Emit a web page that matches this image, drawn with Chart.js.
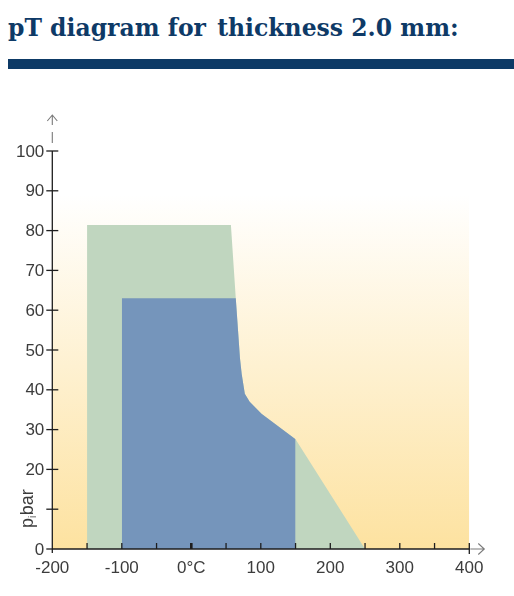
<!DOCTYPE html>
<html><head><meta charset="utf-8">
<script src="https://cdn.jsdelivr.net/npm/chart.js@4"></script>
<style>
html,body{margin:0;padding:0;background:#fff;width:514px;height:596px;overflow:hidden;}
#title{position:absolute;left:8px;top:17px;font-family:"DejaVu Serif",serif;font-weight:bold;font-size:23.5px;line-height:23.5px;color:#0e3a67;white-space:nowrap;}
#bar{position:absolute;left:8px;top:59px;width:506px;height:10px;background:#0d3a66;}
#c{position:absolute;left:0;top:0;}
</style></head><body>
<div id="title">pT diagram for<span style="margin-left:3px"> </span>thickness 2.0 mm:</div>
<div id="bar"></div>
<canvas id="c" width="514" height="596"></canvas>
<script>
// Data (temperature °C, pressure bar)
const greenT = [-150, -150, 57, 64, 70, 72.5, 77, 84, 101, 150, 250];
const greenP = [0, 81.4, 81.4, 63, 48, 44, 39, 37, 34, 27.6, 0];
const blueT = [-100, -100, 64, 70, 72.5, 77, 84, 101, 150, 150];
const blueP = [0, 63, 63, 48, 44, 39, 37, 34, 27.6, 0];
const bgT = [-200, -200, 400.5, 400.5];
const bgP = [0, 89, 89, 0];
const xTicks = [-200, -150, -100, -50, 0, 50, 100, 150, 200, 250, 300, 350, 400];
const xTickLabels = {"-200":"-200","-100":"-100","0":"0°C","100":"100","200":"200","300":"300","400":"400"};
const yTicks = [0, 10, 20, 30, 40, 50, 60, 70, 80, 90, 100];
const yTickLabels = {"0":"0","20":"20","30":"30","40":"40","50":"50","60":"60","70":"70","80":"80","90":"90","100":"100"};
const yAxisTitle = ["p", "i", "bar"];

const pts = (xs, ys) => xs.map((x, i) => ({x: x, y: ys[i]}));

const axesPlugin = {
  id: 'axesPlugin',
  afterDatasetsDraw(chart) {
    const ctx = chart.ctx, xs = chart.scales.x, ys = chart.scales.y;
    const x0 = xs.getPixelForValue(-200), x1 = xs.getPixelForValue(400);
    const y0 = ys.getPixelForValue(0), y100 = ys.getPixelForValue(100);
    ctx.save();
    ctx.strokeStyle = '#1e1e1e';
    ctx.lineWidth = 1.3;
    ctx.beginPath();
    ctx.moveTo(x0, y0); ctx.lineTo(x1, y0);
    ctx.moveTo(x0, y0); ctx.lineTo(x0, y100);
    ctx.stroke();
    // y ticks
    yTicks.forEach(v => {
      const y = ys.getPixelForValue(v);
      ctx.beginPath();
      ctx.moveTo(x0 - 6, y); ctx.lineTo(v === 0 ? x0 : x0 + 6, y);
      ctx.stroke();
    });
    // x ticks
    xTicks.forEach(v => {
      const x = xs.getPixelForValue(v);
      ctx.beginPath();
      ctx.lineWidth = v === 0 ? 2.6 : 1.3;
      if (v === -200) { ctx.moveTo(x, y0); ctx.lineTo(x, y0 + 4); }
      else if (v === 400) { ctx.moveTo(x, y0 - 6); ctx.lineTo(x, y0 + 5); }
      else { ctx.moveTo(x, y0 - 6); ctx.lineTo(x, y0); }
      ctx.stroke();
    });
    // arrows (grey)
    ctx.strokeStyle = '#7a7a7a';
    ctx.lineWidth = 1.1;
    ctx.beginPath();
    ctx.moveTo(x0, y100 - 8); ctx.lineTo(x0, y100 - 19);
    ctx.moveTo(x0, y100 - 26); ctx.lineTo(x0, y100 - 36);
    ctx.moveTo(x0 - 5, y100 - 30); ctx.lineTo(x0, y100 - 36); ctx.lineTo(x0 + 5, y100 - 30);
    ctx.moveTo(x1 + 1, y0); ctx.lineTo(x1 + 15, y0);
    ctx.moveTo(x1 + 9, y0 - 5.5); ctx.lineTo(x1 + 15, y0); ctx.lineTo(x1 + 9, y0 + 5.5);
    ctx.stroke();
    // labels
    ctx.fillStyle = '#3c3c3c';
    ctx.font = '17px "Liberation Sans", Arial, sans-serif';
    ctx.textBaseline = 'middle';
    ctx.textAlign = 'right';
    yTicks.forEach(v => {
      const t = yTickLabels[String(v)];
      if (t) ctx.fillText(t, x0 - 8, ys.getPixelForValue(v) + 1);
    });
    ctx.textAlign = 'center';
    ctx.textBaseline = 'alphabetic';
    xTicks.forEach(v => {
      const t = xTickLabels[String(v)];
      if (t) ctx.fillText(t, xs.getPixelForValue(v), y0 + 24);
    });
    // rotated axis title p_i bar
    ctx.save();
    ctx.translate(x0 - 19, ys.getPixelForValue(5.3));
    ctx.rotate(-Math.PI / 2);
    ctx.textAlign = 'left';
    ctx.font = '18px "Liberation Sans", Arial, sans-serif';
    let w = ctx.measureText(yAxisTitle[0]).width;
    ctx.fillText(yAxisTitle[0], 0, 0);
    ctx.font = '10px "Liberation Sans", Arial, sans-serif';
    ctx.fillText(yAxisTitle[1], w, 3);
    let w2 = ctx.measureText(yAxisTitle[1]).width;
    ctx.font = '18px "Liberation Sans", Arial, sans-serif';
    ctx.fillText(yAxisTitle[2], w + w2 + 0.5, 0);
    ctx.restore();
    ctx.restore();
  }
};

new Chart(document.getElementById('c'), {
  type: 'scatter',
  data: {
    datasets: [
      {
        label: 'background', data: pts(bgT, bgP), showLine: true, fill: 'origin', order: 3,
        pointRadius: 0, borderWidth: 0, borderColor: 'rgba(0,0,0,0)',
        backgroundColor: (c) => {
          const ch = c.chart, a = ch.chartArea;
          if (!a) return '#fde3a2';
          const ys = ch.scales.y;
          const g = ch.ctx.createLinearGradient(0, ys.getPixelForValue(89), 0, ys.getPixelForValue(0));
          g.addColorStop(0, 'rgba(255,255,255,1)');
          g.addColorStop(1, '#fde2a0');
          return g;
        }
      },
      {
        label: 'green', data: pts(greenT, greenP), showLine: true, fill: 'origin', order: 2,
        pointRadius: 0, borderWidth: 0, borderColor: 'rgba(0,0,0,0)', backgroundColor: '#c0d6bf', tension: 0
      },
      {
        label: 'blue', data: pts(blueT, blueP), showLine: true, fill: 'origin', order: 1,
        pointRadius: 0, borderWidth: 0, borderColor: 'rgba(0,0,0,0)', backgroundColor: '#7595bb', tension: 0
      }
    ]
  },
  options: {
    responsive: false, animation: false, devicePixelRatio: 1,
    layout: { padding: { left: 52.3, right: 44.7, top: 111.2, bottom: 47 } },
    plugins: { legend: { display: false }, tooltip: { enabled: false } },
    scales: {
      x: { type: 'linear', min: -200, max: 400, display: false },
      y: { type: 'linear', min: 0, max: 110, display: false }
    }
  },
  plugins: [axesPlugin]
});
</script>
</body></html>
